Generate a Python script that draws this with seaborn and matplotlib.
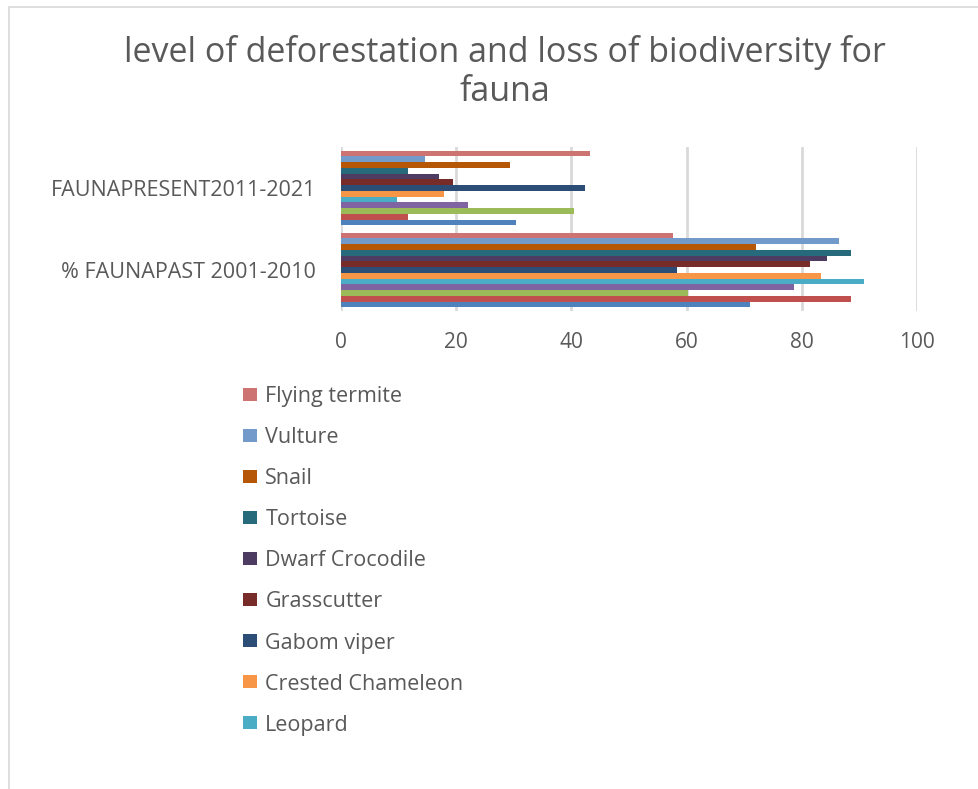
import matplotlib
matplotlib.use("Agg")
import matplotlib.pyplot as plt
from matplotlib.lines import Line2D
from matplotlib.patches import Patch
import seaborn as sns
import pandas as pd

groups = ["FAUNAPRESENT2011-2021", "% FAUNAPAST 2001-2010"]
species = ["Flying termite", "Vulture", "Snail", "Tortoise", "Dwarf Crocodile",
           "Grasscutter", "Gabom viper", "Crested Chameleon", "Leopard",
           "Series 4", "Series 3", "Series 2", "Series 1"]
present = [43.3, 14.5, 29.3, 11.7, 17.0, 19.5, 42.3, 17.9, 9.7, 22.0, 40.5, 11.7, 30.3]
past = [57.7, 86.5, 72.0, 88.6, 84.3, 81.5, 58.3, 83.3, 90.8, 78.7, 60.3, 88.6, 71.0]
colors = ["#CD7371", "#729ACA", "#B65708", "#276A7C", "#4D3B62", "#772C2A",
          "#2C4D75", "#F79646", "#4BACC6", "#8064A2", "#9BBB59", "#C0504D", "#4F81BD"]
legend_count = 9
xticks = [0, 20, 40, 60, 80, 100]
title = "level of deforestation and loss of biodiversity for\nfauna"

rows = []
for s, a, b in zip(species, present, past):
    rows.append({"group": groups[0], "species": s, "value": a})
    rows.append({"group": groups[1], "species": s, "value": b})
df = pd.DataFrame(rows)

sns.set_theme(style="white")
plt.rcParams["font.family"] = ["Open Sans", "DejaVu Sans"]
txt = "#595959"

W, H = 979, 789
fig = plt.figure(figsize=(W / 100, H / 100), dpi=100)
ax = fig.add_axes([341 / W, 1 - 311 / H, (917 - 341) / W, (311 - 147) / H])

sns.barplot(data=df, y="group", x="value", hue="species", order=groups,
            hue_order=species, palette=colors, orient="h", width=0.91,
            linewidth=0, saturation=1, ax=ax, legend=False)

ax.set_xlim(0, 100)
ax.set_xticks(xticks)
ax.xaxis.grid(True, color="#d9d9d9", linewidth=2)
ax.set_axisbelow(True)
for sp in ax.spines.values():
    sp.set_visible(False)
ax.set_xlabel("")
ax.set_ylabel("")
ax.tick_params(axis="both", length=0, colors=txt)
ax.tick_params(axis="x", labelsize=15, pad=15)
ax.tick_params(axis="y", labelsize=15.5, pad=18)

fig.text(505 / W, 1 - 72 / H, title, ha="center", va="center", fontsize=24.5,
         color=txt, linespacing=1.2)

handles = [Patch(facecolor=c, edgecolor="none") for c in colors[:legend_count]]
fig.legend(handles, species[:legend_count], loc="upper left",
           bbox_to_anchor=(224 / W, 1 - 367 / H), frameon=False, fontsize=15.5,
           labelcolor=txt, labelspacing=0.93, handlelength=0.65,
           handleheight=0.56, handletextpad=0.37)

fig.add_artist(Line2D([9 / W, 9 / W], [0, 1 - 7 / H], color="#d9d9d9", lw=1.2))
fig.add_artist(Line2D([9 / W, 1], [1 - 7 / H, 1 - 7 / H], color="#d9d9d9", lw=1.2))

fig.savefig("out.png", dpi=100, facecolor="white")
